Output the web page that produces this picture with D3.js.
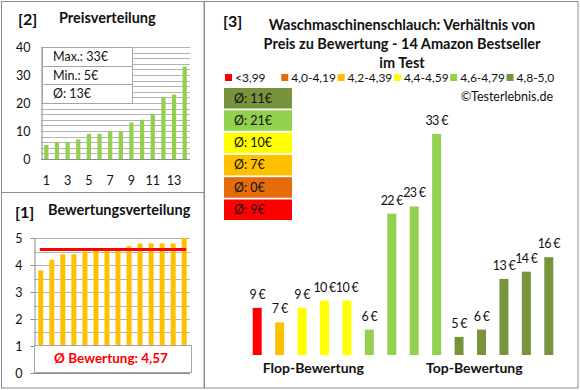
<!DOCTYPE html>
<html><head><meta charset="utf-8">
<script src="https://cdn.jsdelivr.net/npm/d3@7"></script>
<style>
body{margin:0;background:#fff}
svg{display:block;font-family:Lato,"Open Sans",sans-serif}
</style>
</head><body>
<svg id="c" width="580" height="390"></svg>
<script>
// ---------- data ----------
const priceSorted = [5,6,6,7,9,9,10,10,13,14,16,22,23,33];
const priceTicks = [0,10,20,30,40];
const priceXLabels = [1,3,5,7,9,11,13];
const priceStats = ["Max.: 33€","Min.: 5€","Ø: 13€"];

const ratingSorted = [3.8,4.2,4.4,4.4,4.5,4.6,4.6,4.6,4.7,4.8,4.8,4.8,4.8,5.0];
const ratingTicks = [0,1,2,3,4,5];
const ratingAvg = 4.57;
const ratingAvgLabel = "Ø Bewertung: 4,57";

const productPrices  = [9,7,9,10,10,6,22,23,33,5,6,13,14,16];
const productRatings = [3.8,4.2,4.4,4.4,4.5,4.6,4.6,4.6,4.7,4.8,4.8,4.8,4.8,5.0];

const classLabels = ["<3,99","4,0-4,19","4,2-4,39","4,4-4,59","4,6-4,79","4,8-5,0"];
const classColors = ["#FF0000","#E46C0A","#FFC000","#FFFF00","#92D050","#77933C"];
const classThresholds = [3.995,4.195,4.395,4.595,4.795];
const classAvg = [9,0,7,10,21,11];

const titleLines = ["Waschmaschinenschlauch: Verhältnis von","Preis zu Bewertung - 14 Amazon Bestseller","im Test"];

// ---------- setup ----------
const svg = d3.select("#c");
const border = "#8c8c8c", grid = "#b4b4b4", axisC = "#8c8c8c", txt = "#111";

svg.append("rect").attr("width",580).attr("height",390).attr("fill","#fff");
[[1.5,1.5,202.5,191],[1.5,192.5,202.5,195.5],[204.5,1.5,373.5,386.5]].forEach(b=>{
  svg.append("rect").attr("x",b[0]).attr("y",b[1]).attr("width",b[2]).attr("height",b[3])
    .attr("fill","none").attr("stroke",border).attr("stroke-width",1);
});

// ---------- panel 2: Preisverteilung ----------
const p2 = svg.append("g");
p2.append("text").attr("x",18).attr("y",25).attr("font-size",16).attr("font-weight","bold").attr("fill",txt).text("[2]");
p2.append("text").attr("x",59).attr("y",23).attr("font-size",14.5).attr("font-weight","bold").attr("fill",txt).text("Preisverteilung");

const xP = d3.scaleBand().domain(d3.range(1,15)).range([41,190]).paddingInner(0.6).paddingOuter(0.3);
const yP = d3.scaleLinear().domain([0,40]).range([159,47]);

p2.append("g").selectAll("line").data(d3.range(2,41,2)).join("line")
  .attr("x1",41).attr("x2",190).attr("y1",d=>Math.round(yP(d))+0.5).attr("y2",d=>Math.round(yP(d))+0.5)
  .attr("stroke",grid).attr("stroke-width",1);

const axP = p2.append("g").attr("transform","translate(41.5,0)")
  .call(d3.axisLeft(yP).tickValues(priceTicks).tickSize(0).tickPadding(11));
axP.select(".domain").attr("stroke",axisC);
axP.selectAll("text").attr("font-size",12.5).attr("fill",txt).attr("font-family","Lato");

const axPb = p2.append("g").attr("transform","translate(0,159.5)")
  .call(d3.axisBottom(xP).tickValues(priceXLabels).tickSize(0).tickPadding(17).tickSizeOuter(0));
axPb.select(".domain").attr("stroke",axisC).attr("d","M41,0H190");
axPb.selectAll("text").attr("font-size",12.5).attr("fill",txt).attr("font-family","Lato");

p2.append("g").selectAll("rect").data(priceSorted).join("rect")
  .attr("x",(d,i)=>xP(i+1)).attr("width",xP.bandwidth())
  .attr("y",d=>yP(d)).attr("height",d=>yP(0)-yP(d)).attr("fill","#92D050");

const sb = p2.append("g");
sb.append("rect").attr("x",42.5).attr("y",47.5).attr("width",90).attr("height",56)
  .attr("fill","#fff").attr("stroke","#a6a6a6");
[66.5,84.5].forEach(y=>sb.append("line").attr("x1",42.5).attr("x2",132.5).attr("y1",y).attr("y2",y).attr("stroke","#a6a6a6"));
sb.selectAll("text").data(priceStats).join("text")
  .attr("x",53).attr("y",(d,i)=>61+i*18.5).attr("font-size",12.5).attr("fill",txt).text(d=>d);

// ---------- panel 1: Bewertungsverteilung ----------
const p1 = svg.append("g");
p1.append("text").attr("x",15).attr("y",218).attr("font-size",16).attr("font-weight","bold").attr("fill",txt).text("[1]");
p1.append("text").attr("x",48).attr("y",215).attr("font-size",14.5).attr("font-weight","bold").attr("fill",txt).text("Bewertungsverteilung");

const xR = d3.scaleBand().domain(d3.range(14)).range([35,190]).paddingInner(0.55).paddingOuter(0.3);
const yR = d3.scaleLinear().domain([0,5]).range([373,238]);

p1.append("g").selectAll("line").data(d3.range(0.5,5.01,0.5)).join("line")
  .attr("x1",34).attr("x2",190).attr("y1",d=>Math.round(yR(d))+0.5).attr("y2",d=>Math.round(yR(d))+0.5)
  .attr("stroke",grid);

p1.append("g").selectAll("rect").data(ratingSorted).join("rect")
  .attr("x",(d,i)=>xR(i)).attr("width",xR.bandwidth())
  .attr("y",d=>yR(d)).attr("height",d=>yR(0)-yR(d)).attr("fill","#FFC000");

p1.append("line").attr("x1",xR(0)+xR.bandwidth()/2-1).attr("x2",xR(13)+xR.bandwidth()/2+2)
  .attr("y1",yR(ratingAvg)).attr("y2",yR(ratingAvg)).attr("stroke","#FF0000").attr("stroke-width",3);

const axR = p1.append("g").attr("transform","translate(34.5,0)")
  .call(d3.axisLeft(yR).tickValues(ratingTicks).tickFormat(d3.format("d")).tickSize(4).tickPadding(8).tickSizeOuter(0));
axR.select(".domain").attr("stroke",axisC);
axR.selectAll(".tick line").attr("stroke",axisC);
axR.selectAll("text").attr("font-size",12.5).attr("fill",txt).attr("font-family","Lato");
p1.append("line").attr("x1",34).attr("x2",190).attr("y1",373.5).attr("y2",373.5).attr("stroke",axisC);

p1.append("rect").attr("x",34.5).attr("y",345.5).attr("width",157).attr("height",27)
  .attr("fill","#fff").attr("stroke","#a6a6a6");
p1.append("text").attr("x",111).attr("y",363).attr("text-anchor","middle").attr("font-size",13.5)
  .attr("font-weight","bold").attr("fill","#FF0000").text(ratingAvgLabel);

// ---------- panel 3 ----------
const p3 = svg.append("g");
p3.append("text").attr("x",223).attr("y",27).attr("font-size",16).attr("font-weight","bold").attr("fill",txt).text("[3]");
p3.selectAll("text.t").data(titleLines).join("text").attr("class","t")
  .attr("x",402).attr("y",(d,i)=>30+i*19).attr("text-anchor","middle")
  .attr("font-size",14.5).attr("font-weight","bold").attr("fill",txt).text(d=>d);

const lg = p3.append("g").selectAll("g").data(classLabels).join("g")
  .attr("transform",(d,i)=>`translate(${225+i*56.3},74)`);
lg.append("rect").attr("width",7).attr("height",7).attr("fill",(d,i)=>classColors[i]);
lg.append("text").attr("x",10).attr("y",7.5).attr("font-size",12).attr("fill",txt).text(d=>d);

const order = d3.range(classLabels.length).reverse();
const ab = p3.append("g").selectAll("g").data(order).join("g")
  .attr("transform",(d,i)=>`translate(224,${88+i*22.3})`);
ab.append("rect").attr("width",68).attr("height",20.5).attr("fill",d=>classColors[d]);
ab.append("text").attr("x",10).attr("y",14.5).attr("font-size",12.5).attr("fill",txt).text(d=>`Ø: ${classAvg[d]}€`);

p3.append("text").attr("x",553).attr("y",101).attr("text-anchor","end").attr("font-size",12.5).attr("fill",txt).text("©Testerlebnis.de");

const color = d3.scaleThreshold().domain(classThresholds).range(classColors);
const xB = d3.scaleBand().domain(d3.range(14)).range([246,560]).paddingInner(0.6).paddingOuter(0.3);
const yB = d3.scaleLinear().domain([2.5,33]).range([355,134]);

p3.append("g").selectAll("rect").data(productPrices).join("rect")
  .attr("x",(d,i)=>xB(i)).attr("width",xB.bandwidth())
  .attr("y",d=>yB(d)).attr("height",d=>yB.range()[0]-yB(d))
  .attr("fill",(d,i)=>color(productRatings[i]));
p3.append("g").selectAll("text").data(productPrices).join("text")
  .attr("x",(d,i)=>xB(i)+xB.bandwidth()/2).attr("y",d=>yB(d)-9)
  .attr("text-anchor","middle").attr("font-size",12.5).attr("letter-spacing",-0.7)
  .attr("fill",txt).text(d=>`${d} €`);

const xc = i => xB(i)+xB.bandwidth()/2;
p3.append("text").attr("x",(xc(2)+xc(3))/2).attr("y",373).attr("text-anchor","middle")
  .attr("font-size",14).attr("font-weight","bold").attr("fill",txt).text("Flop-Bewertung");
p3.append("text").attr("x",(xc(9)+xc(10))/2+4).attr("y",373).attr("text-anchor","middle")
  .attr("font-size",14).attr("font-weight","bold").attr("fill",txt).text("Top-Bewertung");
</script>
</body></html>
